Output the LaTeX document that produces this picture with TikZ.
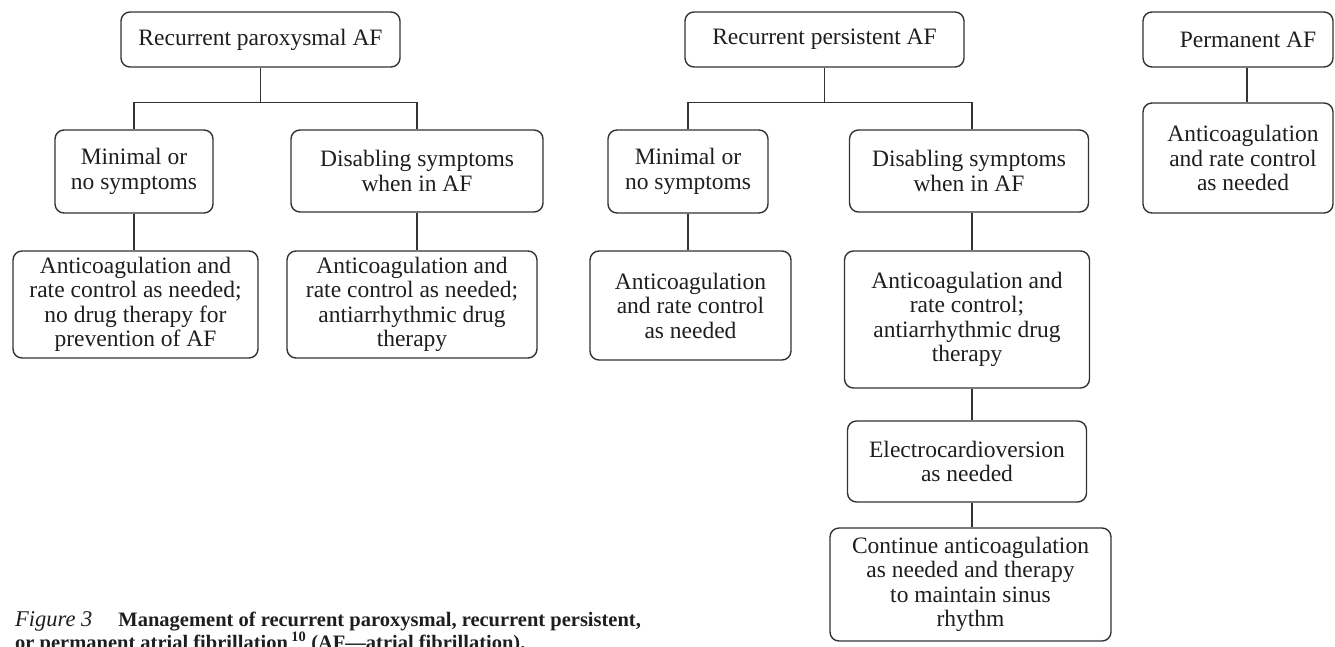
\documentclass[tikz,border=0pt]{standalone}
\usepackage{fontspec}
\setmainfont{Liberation Serif}
\definecolor{ink}{HTML}{1E1E1E}
\definecolor{rulec}{HTML}{333333}
\begin{document}
\begin{tikzpicture}[x=1pt,y=-1pt,
  box/.style={draw=rulec, line width=1.4pt, rounded corners=9pt, align=center,
    inner sep=0pt, text=ink, font=\fontsize{23.5}{24.5}\selectfont},
  link/.style={draw=rulec, line width=1.4pt},
  captext/.style={anchor=base west, inner sep=0pt, text=ink}]
\useasboundingbox (0,0) rectangle (1335,646);
\clip (0,0) rectangle (1335,646);

% Recurrent paroxysmal AF branch
\node[box, minimum width=279, minimum height=55] (p1) at (260.5,39.5) {Recurrent paroxysmal AF};
\node[box, minimum width=158, minimum height=83] (p2) at (134,171.5) {Minimal or\\no symptoms};
\node[box, minimum width=252, minimum height=82] (p3) at (417,171) {Disabling symptoms\\when in AF};
\node[box, minimum width=245, minimum height=107] (p4) at (135.5,304.5)
  {Anticoagulation and\\rate control as needed;\\no drug therapy for\\prevention of AF};
\node[box, minimum width=250, minimum height=107] (p5) at (412,304.5)
  {Anticoagulation and\\rate control as needed;\\antiarrhythmic drug\\therapy};

\draw[link] (p1.south) -- ++(0,35) coordinate (j1);
\draw[link] (p2.north) |- (j1) -| (p3.north);
\draw[link] (p2.south) -- (p2.south |- p4.north);
\draw[link] (p3.south) -- (p3.south |- p5.north);

% Recurrent persistent AF branch
\node[box, minimum width=279, minimum height=55] (m1) at (824.5,39.5) {Recurrent persistent AF};
\node[box, minimum width=160, minimum height=83] (m2) at (688,171.5) {Minimal or\\no symptoms};
\node[box, minimum width=239, minimum height=82] (m3) at (969,171) {Disabling symptoms\\when in AF};
\node[box, minimum width=201, minimum height=109] (m4) at (690.5,305.5)
  {Anticoagulation\\and rate control\\as needed};
\node[box, minimum width=245, minimum height=137] (m5) at (967,319.5)
  {Anticoagulation and\\rate control;\\antiarrhythmic drug\\therapy};
\node[box, minimum width=239, minimum height=81] (m6) at (967,461.5)
  {Electrocardioversion\\as needed};
\node[box, minimum width=281, minimum height=113] (m7) at (970.5,584.5)
  {Continue anticoagulation\\as needed and therapy\\to maintain sinus\\rhythm};

\draw[link] (m1.south) -- ++(0,35) coordinate (j2);
\draw[link] (m2.north) |- (j2) -| ([xshift=3pt]m3.north);
\draw[link] (m2.south) -- (m2.south |- m4.north);
\draw[link] ([xshift=3pt]m3.south) -- ([xshift=3pt]m3.south |- m5.north);
\draw[link] ([xshift=5pt]m5.south) -- ([xshift=5pt]m5.south |- m6.north);
\draw[link] ([xshift=5pt]m6.south) -- ([xshift=5pt]m6.south |- m7.north);

% Permanent AF
\node[box, minimum width=190, minimum height=55] (q1) at (1238,39.5) {\hspace*{20pt}Permanent AF};
\node[box, minimum width=190, minimum height=110] (q2) at (1238,158)
  {\hspace*{10pt}Anticoagulation\\\hspace*{10pt}and rate control\\\hspace*{10pt}as needed};
\draw[link] ([xshift=9pt]q1.south) -- ([xshift=9pt]q2.north);

% Caption
\node[captext] (cap1) at (15,626)
  {{\fontsize{22.5}{24}\selectfont\itshape Figure 3}\hspace{26pt}{\fontsize{20.5}{22}\selectfont\bfseries Management of recurrent paroxysmal, recurrent persistent,}};
\node[captext] (cap2) at (15,649)
  {\fontsize{20.5}{22}\selectfont\bfseries or permanent atrial fibrillation\,\textsuperscript{10} (AF---atrial fibrillation).};
\end{tikzpicture}
\end{document}
